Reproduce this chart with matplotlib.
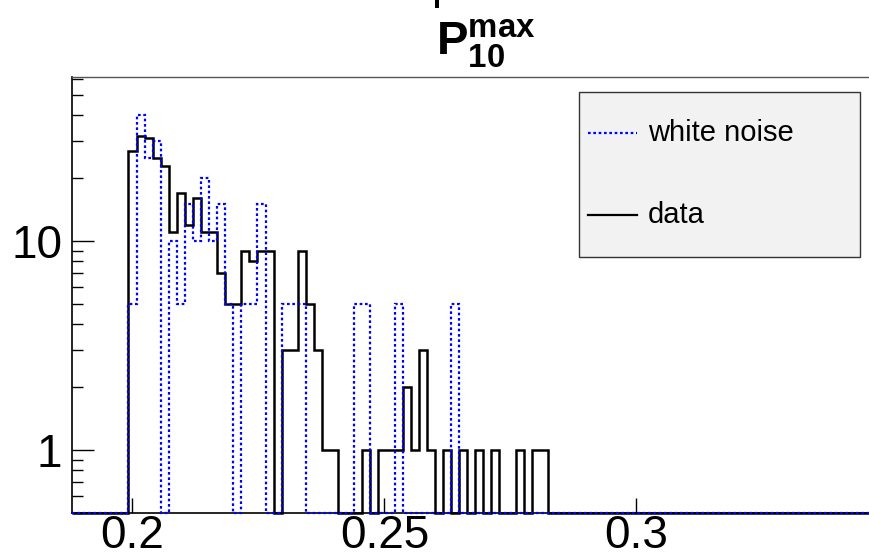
import numpy as np
import matplotlib.pyplot as plt
from matplotlib.ticker import LogLocator, FuncFormatter, NullFormatter
from matplotlib.lines import Line2D
from matplotlib.patches import Rectangle

plt.rcParams['font.family'] = ['Liberation Sans', 'DejaVu Sans']
plt.rcParams['mathtext.fontset'] = 'custom'
plt.rcParams['mathtext.rm'] = 'Liberation Sans'
plt.rcParams['mathtext.bf'] = 'Liberation Sans:bold'

# Histogram binning: 100 bins over the axis range, filled bins start at bin 7
x_lo, x_hi, n_bins = 0.188, 0.348, 100
first_bin = 7

# Counts per bin (from bin 7 on)
data_counts = [27, 32, 31, 25, 23, 11, 17, 12, 16, 11, 11, 7, 5, 5, 9, 8, 9, 9, 0, 3,
               3, 9, 5, 3, 1, 1, 0, 0, 0, 1, 0, 1, 1, 1, 2, 1, 3, 1, 0, 1,
               0, 1, 0, 1, 0, 1, 0, 0, 1, 0, 1, 1]
noise_counts = [5, 40, 25, 30, 0, 10, 5, 15, 10, 20, 10, 15, 5, 0, 5, 5, 15, 0, 0, 5,
                5, 5, 0, 0, 0, 0, 0, 0, 5, 5, 0, 0, 0, 5, 0, 0, 0, 0, 0, 0,
                5, 0, 0, 0, 0, 0, 0, 0, 0, 0, 0, 0]

y_lo, y_hi = 0.5, 61
x_ticks = [0.2, 0.25, 0.3]
x_tick_labels = ['0.2', '0.25', '0.3']


def full_hist(counts):
    h = np.zeros(n_bins)
    h[first_bin:first_bin + len(counts)] = counts
    # empty bins are drawn on the bottom of the frame, as ROOT does
    return np.where(h > 0, h, y_lo)


edges = np.linspace(x_lo, x_hi, n_bins + 1)

W, H = 869, 558
fig = plt.figure(figsize=(W / 100, H / 100), dpi=100)
# frame runs past the right edge of the picture
ax = fig.add_axes([72 / W, (H - 513) / H, (878.4 - 72) / W, (513 - 77) / H])

ax.stairs(full_hist(data_counts), edges, baseline=None, color='black', lw=1.8, clip_on=False, zorder=3)
ax.stairs(full_hist(noise_counts), edges, baseline=None, color='#0000ff', lw=1.6,
          linestyle=(0, (1.2, 1.2)), clip_on=False, zorder=4)

ax.set_yscale('log')
ax.set_xlim(x_lo, x_hi)
ax.set_ylim(y_lo, y_hi)

ax.yaxis.set_major_locator(LogLocator(base=10))
ax.yaxis.set_major_formatter(FuncFormatter(lambda v, _: f'{v:g}'))
ax.yaxis.set_minor_locator(LogLocator(base=10, subs=np.arange(2, 10)))
ax.yaxis.set_minor_formatter(NullFormatter())
ax.set_xticks(x_ticks)
ax.set_xticklabels(x_tick_labels)
ax.xaxis.set_minor_locator(plt.NullLocator())

ax.tick_params(axis='both', which='both', direction='in', labelsize=33, colors='black')
ax.tick_params(axis='y', which='major', length=16, width=1, pad=7)
ax.tick_params(axis='y', which='minor', length=8, width=1)
ax.tick_params(axis='x', which='major', length=11, width=1, pad=0.5)
ax.tick_params(right=False, top=False)

for s in ['left', 'bottom']:
    ax.spines[s].set_linewidth(1.2)
    ax.spines[s].set_color('black')
ax.spines['top'].set_color('#555555')
ax.spines['top'].set_linewidth(1.0)

# Title
fig.text(485.5 / W, 1 - 55 / H, r'$\mathbf{P}_{\mathbf{10}}^{\mathbf{max}}$',
         ha='center', va='baseline', fontsize=34)
# bit of a cut-off line above the title
fig.add_artist(Rectangle((435 / W, 1 - 8 / H), 4 / W, 8 / H, transform=fig.transFigure,
                         facecolor='black', edgecolor='none'))

# Legend box
fig.add_artist(Rectangle((579 / W, 1 - 257 / H), 281 / W, 165 / H, transform=fig.transFigure,
                         facecolor='#f2f2f2', edgecolor='#333333', lw=1.0, zorder=5))
fig.add_artist(Line2D([588 / W, 637 / W], [1 - 133 / H] * 2, transform=fig.transFigure,
                      color='#0000ff', lw=1.6, linestyle=(0, (1.2, 1.2)), zorder=6))
fig.add_artist(Line2D([588 / W, 637 / W], [1 - 215 / H] * 2, transform=fig.transFigure,
                      color='black', lw=1.6, zorder=6))
fig.text(648 / W, 1 - 133 / H, 'white noise', ha='left', va='center', fontsize=21, zorder=7)
fig.text(648 / W, 1 - 215 / H, 'data', ha='left', va='center', fontsize=21, zorder=7)

fig.savefig('out.png', dpi=100)
